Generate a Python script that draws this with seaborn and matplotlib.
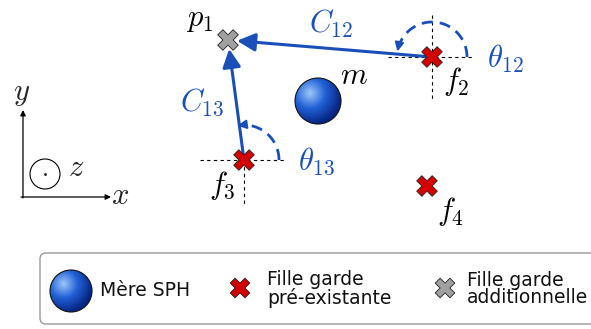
import numpy as np
import pandas as pd
import matplotlib
matplotlib.use("Agg")
import matplotlib.pyplot as plt
import seaborn as sns
from matplotlib.patches import Circle, FancyBboxPatch

sns.set_theme(style="white")
plt.rcParams['font.family'] = ['DejaVu Sans']
plt.rcParams['mathtext.fontset'] = 'cm'

# ---- data (pixel-space positions of the particles) ----
labels = ["p1", "f2", "f3", "f4"]
px = [228, 432, 244, 427]
py = [40, 57, 160, 186]
kinds = ["additionnelle", "pré-existante", "pré-existante", "pré-existante"]
mother_x = [318]
mother_y = [101]
mother_r = [23]
arc_centers = ["f2", "f3"]
arc_end_deg = [165, 95]
arc_radius = [35, 35]
legend_labels = ["Mère SPH", "Fille garde\npré-existante", "Fille garde\nadditionnelle"]

BLUE = "#1a4fb8"
RED = "#d40000"
GRAY = "#a0a0a0"

df = pd.DataFrame({"name": labels, "x": px, "y": py, "kind": kinds})
pos = {n: (x, y) for n, x, y in zip(labels, px, py)}

fig = plt.figure(figsize=(5.91, 3.29), dpi=100)
ax = fig.add_axes([0, 0, 1, 1])
ax.set_xlim(0, 591)
ax.set_ylim(329, 0)
ax.axis("off")


def sphere(cx, cy, r):
    n = 200
    xs = np.linspace(-1, 1, n)
    X, Y = np.meshgrid(xs, xs)
    d = np.sqrt((X + 0.35) ** 2 + (Y + 0.35) ** 2)
    d = np.clip(d / 1.35, 0, 1)
    c0 = np.array([0.62, 0.78, 0.98])
    c1 = np.array([0.13, 0.38, 0.84])
    c2 = np.array([0.03, 0.15, 0.52])
    t = d[..., None]
    img = np.where(t < 0.5, c0 + (c1 - c0) * (t / 0.5), c1 + (c2 - c1) * ((t - 0.5) / 0.5))
    im = ax.imshow(img, extent=(cx - r, cx + r, cy + r, cy - r), zorder=3, interpolation="bilinear")
    clip = Circle((cx, cy), r, transform=ax.transData, facecolor="none")
    im.set_clip_path(clip)
    ax.add_patch(Circle((cx, cy), r, facecolor="none", edgecolor="#111111", lw=0.8, zorder=4))


# mother particle
for mx, my, mr in zip(mother_x, mother_y, mother_r):
    sphere(mx, my, mr)

# dashed reference lines at f2 and f3
dash = dict(color="black", lw=0.8, ls=(0, (3, 3)), zorder=1)
x2, y2 = pos["f2"]
ax.plot([x2 - 44, x2 + 40], [y2, y2], **dash)
ax.plot([x2, x2], [y2 - 42, y2 + 43], **dash)
x3, y3 = pos["f3"]
ax.plot([x3 - 44, x3 + 42], [y3, y3], **dash)
ax.plot([x3, x3], [y3, y3 + 45], **dash)

# connection arrows
for src in ["f2", "f3"]:
    sx, sy = pos[src]
    tx, ty = pos["p1"]
    v = np.array([tx - sx, ty - sy], float)
    v /= np.hypot(*v)
    ax.annotate("", xy=(tx - v[0] * 9, ty - v[1] * 9), xytext=(sx, sy),
                arrowprops=dict(arrowstyle="-|>,head_length=0.5,head_width=0.25", color=BLUE, lw=2.2,
                                mutation_scale=22, shrinkA=0, shrinkB=0), zorder=2)

# angle arcs
for c, a1, r in zip(arc_centers, arc_end_deg, arc_radius):
    cx, cy = pos[c]
    th = np.radians(np.linspace(0, a1, 100))
    ax.plot(cx + r * np.cos(th), cy - r * np.sin(th), color=BLUE, lw=2, ls=(0, (4, 2.5)), zorder=2)
    ta = np.radians(a1 + 6)
    tb = np.radians(a1)
    ax.annotate("", xy=(cx + r * np.cos(ta), cy - r * np.sin(ta)),
                xytext=(cx + r * np.cos(tb), cy - r * np.sin(tb)),
                arrowprops=dict(arrowstyle="-|>", color=BLUE, lw=1.5, mutation_scale=13,
                                shrinkA=0, shrinkB=0), zorder=2)

# particles
sns.scatterplot(data=df, x="x", y="y", hue="kind", marker="X", s=220,
                palette={"additionnelle": GRAY, "pré-existante": RED},
                edgecolor="#222222", linewidth=0.6, legend=False, ax=ax, zorder=5)
ax.set_xlim(0, 591)
ax.set_ylim(329, 0)

# labels
mt = dict(fontsize=22, ha="center", va="center")
ax.text(200, 19, r"$p_1$", color="black", **mt)
ax.text(331, 24, r"$C_{12}$", color=BLUE, **mt)
ax.text(505, 59, r"$\theta_{12}$", color=BLUE, **mt)
ax.text(456, 82, r"$f_2$", color="black", **mt)
ax.text(354, 75, r"$m$", color="black", **mt)
ax.text(202, 102, r"$C_{13}$", color=BLUE, **mt)
ax.text(316, 161, r"$\theta_{13}$", color=BLUE, **mt)
ax.text(222, 185, r"$f_3$", color="black", **mt)
ax.text(451, 212, r"$f_4$", color="black", **mt)

# coordinate frame
ax.annotate("", xy=(23, 110), xytext=(23, 198),
            arrowprops=dict(arrowstyle="-|>", color="black", lw=0.9, mutation_scale=8, shrinkA=0, shrinkB=0))
ax.annotate("", xy=(111, 197), xytext=(21, 197),
            arrowprops=dict(arrowstyle="-|>", color="black", lw=0.9, mutation_scale=8, shrinkA=0, shrinkB=0))
ax.add_patch(Circle((45, 174), 15, facecolor="none", edgecolor="black", lw=0.8))
ax.plot([45], [174], "k.", ms=2)
ax.text(22, 93, r"$y$", fontsize=22, ha="center", va="center")
ax.text(120, 195, r"$x$", fontsize=22, ha="center", va="center")
ax.text(76, 167, r"$z$", fontsize=22, ha="center", va="center")

# legend box
ax.add_patch(FancyBboxPatch((40, 253), 570, 71, boxstyle="round,pad=0,rounding_size=6",
                            facecolor="white", edgecolor="#9a9a9a", lw=1, zorder=1))
sphere(71, 291, 21)
leg = pd.DataFrame({"x": [240, 445], "y": [288, 288], "kind": ["pré-existante", "additionnelle"]})
sns.scatterplot(data=leg, x="x", y="y", hue="kind", marker="X", s=200,
                palette={"additionnelle": GRAY, "pré-existante": RED},
                edgecolor="#222222", linewidth=0.6, legend=False, ax=ax, zorder=5)
ax.set_xlim(0, 591)
ax.set_ylim(329, 0)
ax.set_xlabel("")
ax.set_ylabel("")
lt = dict(fontsize=13.5, ha="left", va="center", color="#111111", linespacing=0.9)
ax.text(100, 291, legend_labels[0], **lt)
ax.text(267, 289, legend_labels[1], **lt)
ax.text(467, 289, legend_labels[2], **lt)

fig.savefig("out.png", dpi=100)
